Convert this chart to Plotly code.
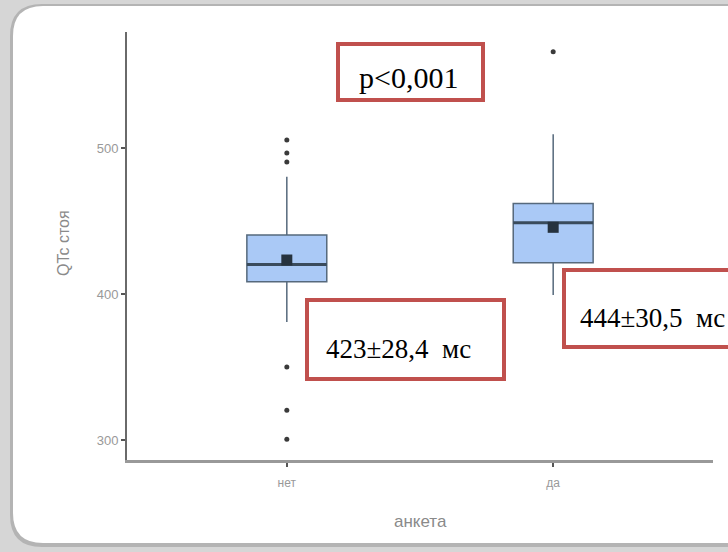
import plotly.graph_objects as go

# ---- data ----
categories = ["нет", "да"]
q1_vals = [408.4, 421.4]
median_vals = [420.3, 448.8]
q3_vals = [440.4, 462.1]
lower_fence = [380.8, 399.3]
upper_fence = [480.3, 509.4]
mean_vals = [423.3, 445.7]
outlier_cats = ["нет", "нет", "нет", "нет", "нет", "нет", "да"]
outlier_vals = [505.5, 496.6, 490.4, 350.0, 320.3, 300.5, 566.0]
y_ticks = [300, 400, 500]
p_text = "p<0,001"
stat_texts = ["423±28,4  мс", "444±30,5  мс"]

# ---- layout geometry helpers (pixel -> paper) ----
W, H = 728, 552
ML, MR, MT, MB = 127, 15, 32, 92
PW, PH = W - ML - MR, H - MT - MB


def px(x):
    return (x - ML) / PW


def py(y):
    return (H - MB - y) / PH


def rounded_rect(x0, y0, x1, y1, r):
    rx, ry = r / PW, r / PH
    X0, X1, Y0, Y1 = px(x0), px(x1), py(y0), py(y1)  # Y0 top, Y1 bottom
    return (f"M {X0+rx},{Y0} L {X1-rx},{Y0} Q {X1},{Y0} {X1},{Y0-ry} "
            f"L {X1},{Y1+ry} Q {X1},{Y1} {X1-rx},{Y1} L {X0+rx},{Y1} "
            f"Q {X0},{Y1} {X0},{Y1+ry} L {X0},{Y0-ry} Q {X0},{Y0} {X0+rx},{Y0} Z")


fig = go.Figure()

fig.add_trace(go.Box(
    x=categories, q1=q1_vals, median=median_vals, q3=q3_vals,
    lowerfence=lower_fence, upperfence=upper_fence,
    fillcolor="#aac9f6", line=dict(color="#56697c", width=1.5),
    width=0.3, whiskerwidth=0, boxpoints=False, hoverinfo="skip",
))
# thick median line
fig.add_trace(go.Box(
    x=categories, q1=median_vals, median=median_vals, q3=median_vals,
    lowerfence=median_vals, upperfence=median_vals,
    fillcolor="rgba(0,0,0,0)", line=dict(color="#3a4b5c", width=3),
    width=0.3, whiskerwidth=0, boxpoints=False, hoverinfo="skip",
))
fig.add_trace(go.Scatter(
    x=outlier_cats, y=outlier_vals, mode="markers",
    marker=dict(color="#3a3a3a", size=5), hoverinfo="skip",
))
fig.add_trace(go.Scatter(
    x=categories, y=mean_vals, mode="markers",
    marker=dict(color="#26323e", size=11, symbol="square"), hoverinfo="skip",
))

shapes = [
    dict(type="path", xref="paper", yref="paper", path=rounded_rect(10, 4, 760, 547, 32),
         fillcolor="#b4b4b4", line=dict(width=0), layer="below"),
    dict(type="path", xref="paper", yref="paper", path=rounded_rect(13, 6, 756, 543, 30),
         fillcolor="#ffffff", line=dict(width=0), layer="below"),
    dict(type="rect", xref="paper", yref="paper", x0=px(338), x1=px(483), y0=py(44), y1=py(100),
         line=dict(color="#c0504d", width=4), layer="above"),
    dict(type="rect", xref="paper", yref="paper", x0=px(307), x1=px(504), y0=py(300), y1=py(379),
         line=dict(color="#c0504d", width=4), layer="above"),
    dict(type="rect", xref="paper", yref="paper", x0=px(564), x1=px(745), y0=py(270), y1=py(347),
         line=dict(color="#c0504d", width=4), layer="above"),
]

serif = "Liberation Serif, Times New Roman, serif"
sans = "Liberation Sans, Arial"
annotations = [
    dict(text=p_text, xref="paper", yref="paper", x=px(408), y=py(77), showarrow=False,
         font=dict(family=serif, size=30, color="#000"), xanchor="center", yanchor="middle"),
    dict(text=stat_texts[0], xref="paper", yref="paper", x=px(398), y=py(349), showarrow=False,
         font=dict(family=serif, size=27, color="#000"), xanchor="center", yanchor="middle"),
    dict(text=stat_texts[1], xref="paper", yref="paper", x=px(727), y=py(318), showarrow=False,
         font=dict(family=serif, size=27, color="#000"), xanchor="right", yanchor="middle"),
    dict(text="QTc стоя", xref="paper", yref="paper", x=px(63), y=py(243), showarrow=False,
         textangle=-90, font=dict(family=sans, size=16, color="#8a8a8a"),
         xanchor="center", yanchor="middle"),
    dict(text="анкета", xref="paper", yref="paper", x=px(420), y=py(521), showarrow=False,
         font=dict(family=sans, size=17, color="#8a8a8a"),
         xanchor="center", yanchor="middle"),
]

fig.update_layout(
    width=W, height=H,
    margin=dict(l=ML, r=MR, t=MT, b=MB),
    paper_bgcolor="#d6d6d6", plot_bgcolor="rgba(0,0,0,0)",
    showlegend=False, boxmode="overlay",
    shapes=shapes, annotations=annotations,
    xaxis=dict(type="category", range=[-0.6, 1.6], showgrid=False, zeroline=False,
               showline=True, linecolor="#999999", linewidth=2.5,
               ticks="outside", ticklen=4, tickcolor="#555", tickwidth=1.5,
               ticklabelstandoff=6,
               tickfont=dict(family=sans, size=12, color="#999")),
    yaxis=dict(range=[286.3, 579.5], tickvals=y_ticks, showgrid=False, zeroline=False,
               showline=True, linecolor="#6a6a6a", linewidth=2,
               ticks="outside", ticklen=4, tickcolor="#555", tickwidth=1.5,
               tickfont=dict(family=sans, size=13, color="#999")),
)

fig.write_html("out.html", config={"displayModeBar": False},
               post_script="document.body.style.margin='0';document.body.style.overflow='hidden';")
